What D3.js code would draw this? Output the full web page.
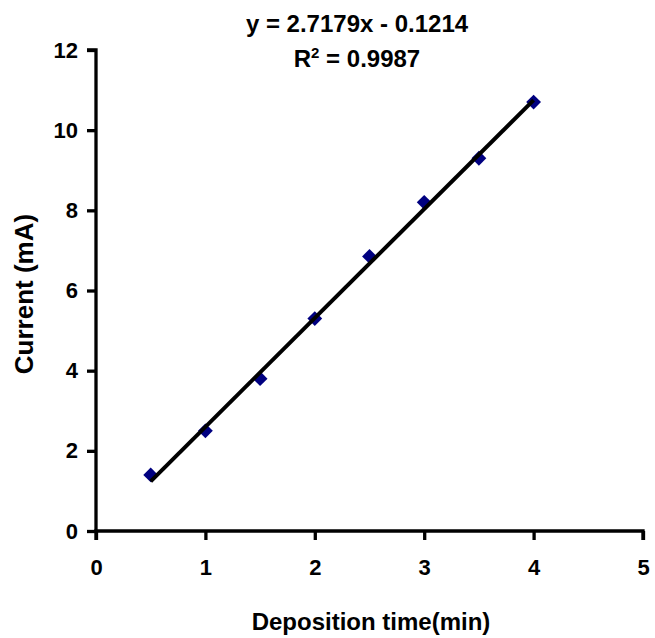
<!DOCTYPE html>
<html>
<head>
<meta charset="utf-8">
<script src="https://cdn.jsdelivr.net/npm/d3@7"></script>
<style>
  body { margin: 0; background: #fff; }
  svg text { font-family: "Liberation Sans", Arial, sans-serif; font-weight: bold; fill: #000; }
  .axis text { font-size: 22px; }
</style>
</head>
<body>
<svg id="chart" width="655" height="638"></svg>
<script>
// deposition time (min) vs current (mA)
const times = [0.5, 1, 1.5, 2, 2.5, 3, 3.5, 4]
const currents = [1.4, 2.5, 3.8, 5.3, 6.85, 8.2, 9.3, 10.7]
const slope = 2.7179
const intercept = -0.1214
const xTicks = [0, 1, 2, 3, 4, 5]
const yTicks = [0, 2, 4, 6, 8, 10, 12]

const margin = { top: 50, right: 12, bottom: 107, left: 96 }
const width = 655 - margin.left - margin.right
const height = 638 - margin.top - margin.bottom

const svg = d3.select('#chart')
const g = svg.append('g')
  .attr('transform', `translate(${margin.left},${margin.top})`)

const x = d3.scaleLinear().domain([0, 5]).range([0, width])
const y = d3.scaleLinear().domain([0, 12]).range([height, 0])

const xAxis = g.append('g')
  .attr('class', 'axis')
  .attr('transform', `translate(0,${height})`)
  .call(d3.axisBottom(x).tickValues(xTicks).tickSize(9).tickPadding(19).tickFormat(d3.format('d')))
const yAxis = g.append('g')
  .attr('class', 'axis')
  .call(d3.axisLeft(y).tickValues(yTicks).tickSize(9).tickPadding(9).tickFormat(d3.format('d')))

;[xAxis, yAxis].forEach(a => {
  a.attr('font-size', 22).attr('font-family', null)
  a.select('.domain').attr('stroke', '#000').attr('stroke-width', 3.3)
  a.selectAll('.tick line').attr('stroke', '#000').attr('stroke-width', 3.3)
})
yAxis.select('.domain').attr('d', `M-9,0H0V${height}`)
xAxis.select('.domain').attr('d', `M0,9V0H${width}V9`)

// markers
g.selectAll('path.pt')
  .data(times)
  .join('path')
  .attr('class', 'pt')
  .attr('d', d3.symbol(d3.symbolDiamond2, 140)())
  .attr('transform', (d, i) => `translate(${x(d)},${y(currents[i])})`)
  .attr('fill', '#000080')

// trend line, drawn over the markers
const xs = d3.extent(times)
g.append('line')
  .attr('x1', x(xs[0])).attr('y1', y(slope * xs[0] + intercept))
  .attr('x2', x(xs[1])).attr('y2', y(slope * xs[1] + intercept))
  .attr('stroke', '#000').attr('stroke-width', 4)

// equation
svg.append('text')
  .attr('x', 357).attr('y', 32)
  .attr('text-anchor', 'middle')
  .style('font-size', '24px')
  .text(`y = ${slope}x - ${Math.abs(intercept)}`)
const r2 = svg.append('text')
  .attr('x', 357).attr('y', 67)
  .attr('text-anchor', 'middle')
  .style('font-size', '24px')
r2.append('tspan').text('R')
r2.append('tspan').attr('dy', -9).style('font-size', '15px').text('2')
r2.append('tspan').attr('dy', 9).text(' = 0.9987')

// axis titles
svg.append('text')
  .attr('x', 371).attr('y', 630)
  .attr('text-anchor', 'middle')
  .style('font-size', '24px')
  .text('Deposition time(min)')
svg.append('text')
  .attr('transform', 'translate(33,294) rotate(-90)')
  .attr('text-anchor', 'middle')
  .style('font-size', '26px')
  .text('Current (mA)')
</script>
</body>
</html>
